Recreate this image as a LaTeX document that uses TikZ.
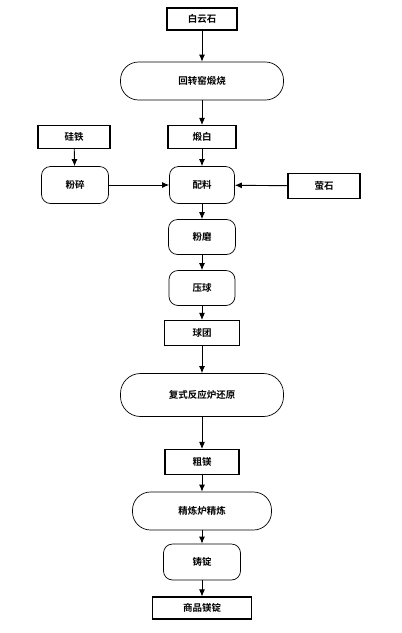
\documentclass[tikz,border=0pt]{standalone}
\usepackage{fontspec}
\newfontfamily\cjk{Noto Sans CJK SC}[BoldFont={Noto Sans CJK SC Bold}]
\usetikzlibrary{arrows.meta}
\begin{document}
\begin{tikzpicture}[x=1pt, y=-1pt,
    font=\cjk\bfseries\fontsize{9.5}{11}\selectfont,
    procbox/.style={draw, line width=1.1pt, rectangle, inner sep=0pt},
    stagebox/.style={draw, line width=0.7pt, rounded corners=9pt, inner sep=0pt},
    flow/.style={-{Latex[length=7pt,width=6pt]}, line width=0.9pt}]
        \useasboundingbox (0,0) rectangle (402,633);

        % Raw materials
        \node[procbox, minimum width=70pt, minimum height=22pt] (dolomite) at (202,19) {白云石};
        \node[stagebox, minimum width=163pt, minimum height=38pt, rounded corners=18pt] (kiln) at (202,81) {回转窑煅烧};
        \node[procbox, minimum width=68pt, minimum height=23pt] (calcined) at (202,137) {煅白};
        \node[procbox, minimum width=72pt, minimum height=23pt] (ferrosi) at (74,137) {硅铁};
        \node[stagebox, minimum width=67pt, minimum height=37pt] (crush) at (75,185) {粉碎};
        \node[procbox, minimum width=72pt, minimum height=25pt] (fluorite) at (324,186) {萤石};

        % Main line
        \node[stagebox, minimum width=65pt, minimum height=37pt] (batch) at (202,185) {配料};
        \node[stagebox, minimum width=67pt, minimum height=35pt] (grind) at (202,237) {粉磨};
        \node[stagebox, minimum width=66pt, minimum height=35pt] (press) at (202,288) {压球};
        \node[procbox, minimum width=75pt, minimum height=25pt] (pellet) at (202,333) {球团};
        \node[stagebox, minimum width=163pt, minimum height=43pt, rounded corners=20pt] (reduce) at (202,395) {复式反应炉还原};
        \node[procbox, minimum width=74pt, minimum height=25pt] (crude) at (202,462) {粗镁};
        \node[stagebox, minimum width=139pt, minimum height=38pt, rounded corners=18pt] (refine) at (202,511) {精炼炉精炼};
        \node[stagebox, minimum width=77pt, minimum height=36pt] (cast) at (202,562) {铸锭};
        \node[procbox, minimum width=99pt, minimum height=22pt] (ingot) at (202,608) {商品镁锭};

        % Arrows
        \draw[flow] (dolomite) -- (kiln);
        \draw[flow] (kiln) -- (calcined);
        \draw[flow] (calcined) -- (batch);
        \draw[flow] (ferrosi) -- (crush);
        \draw[flow] (crush) -- (batch);
        \draw[flow] (fluorite) -- (batch);
        \draw[flow] (batch) -- (grind);
        \draw[flow] (grind) -- (press);
        \draw[flow] (press) -- (pellet);
        \draw[flow] (pellet) -- (reduce);
        \draw[flow] (reduce) -- (crude);
        \draw[flow] (crude) -- (refine);
        \draw[flow] (refine) -- (cast);
        \draw[flow] (cast) -- (ingot);
\end{tikzpicture}
\end{document}
